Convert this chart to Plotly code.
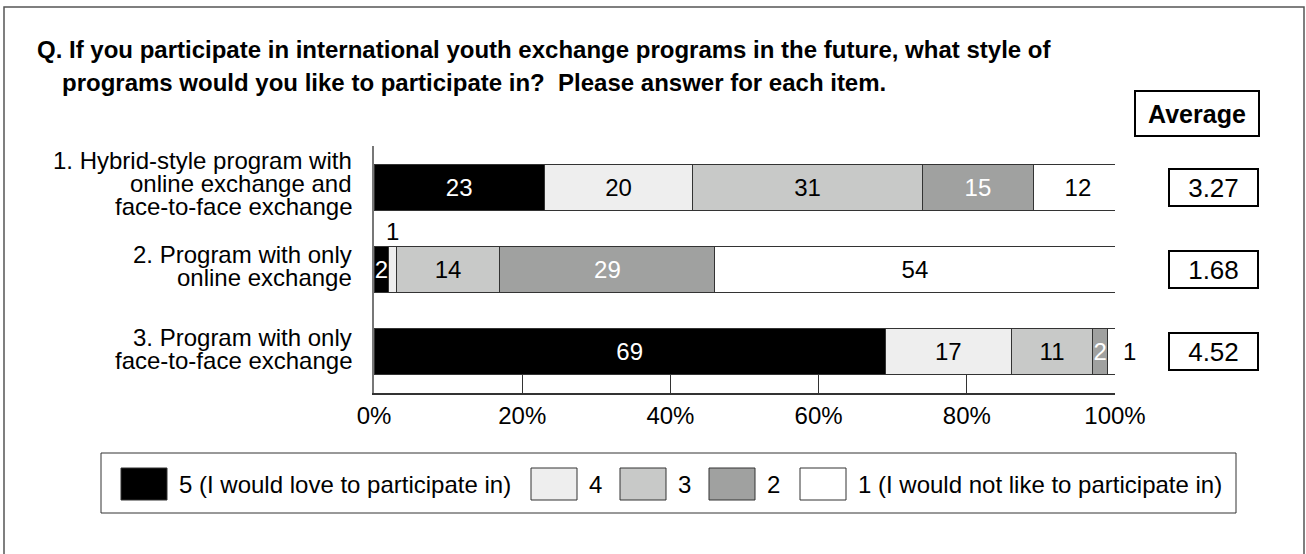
import plotly.graph_objects as go

# ---- data -------------------------------------------------------------
categories = [
    "1. Hybrid-style program with<br>online exchange and<br>face-to-face exchange",
    "2. Program with only<br>online exchange",
    "3. Program with only<br>face-to-face exchange",
]
levels = [
    "5 (I would love to participate in)",
    "4",
    "3",
    "2",
    "1 (I would not like to participate in)",
]
pct_5 = [23, 2, 69]
pct_4 = [20, 1, 17]
pct_3 = [31, 14, 11]
pct_2 = [15, 29, 2]
pct_1 = [12, 54, 1]
averages = [3.27, 1.68, 4.52]
tick_vals = [0, 20, 40, 60, 80, 100]
tick_labels = ["0%", "20%", "40%", "60%", "80%", "100%"]

title_lines = [
    "Q. If you participate in international youth exchange programs in the future, what style of",
    "programs would you like to participate in?\u00a0 Please answer for each item.",
]
average_header = "Average"

# ---- styling ----------------------------------------------------------
FONT = "Liberation Sans, Arial, Helvetica, sans-serif"
fills = ["#000000", "#eeeeee", "#c8c9c8", "#a0a1a0", "#ffffff"]
text_colors = ["#ffffff", "#000000", "#000000", "#ffffff", "#000000"]
EDGE = "#333333"

W, H = 1306, 554
L, R, T, B = 374, 1115, 146, 393   # plot area in pixels


def px(x):
    return (x - L) / (R - L)


def py(y):
    return (B - y) / (B - T)


series = [pct_5, pct_4, pct_3, pct_2, pct_1]

fig = go.Figure()
for name, vals, fill, tcol in zip(levels, series, fills, text_colors):
    fig.add_trace(go.Bar(
        name=name,
        y=categories,
        x=vals,
        orientation="h",
        width=0.56,
        marker=dict(color=fill, line=dict(color=EDGE, width=1)),
        text=[str(v) if v > 1 else "" for v in vals],
        textposition="inside",
        insidetextanchor="middle",
        constraintext="none",
        textangle=0,
        textfont=dict(family=FONT, size=24, color=tcol),
        hoverinfo="skip",
        showlegend=False,
    ))

annotations = []
shapes = []

# labels for 1% segments drawn next to the bar
for ci, cat in enumerate(categories):
    start = 0
    for si, vals in enumerate(series):
        v = vals[ci]
        if v <= 1:
            if si == len(series) - 1:
                annotations.append(dict(
                    x=start + v, y=cat, xref="x", yref="y", text=str(v),
                    xanchor="left", yanchor="middle", xshift=6, showarrow=False,
                    font=dict(family=FONT, size=24, color="#000000")))
            else:
                annotations.append(dict(
                    x=start + v / 2, y=cat, xref="x", yref="y", text=str(v),
                    xanchor="center", yanchor="middle", yshift=38, showarrow=False,
                    font=dict(family=FONT, size=24, color="#000000")))
        start += v

# category labels, one annotation per line for tight leading
PITCH = 23
for cat in categories:
    lines = cat.split("<br>")
    n = len(lines)
    for k, line in enumerate(lines):
        baseline = 5 + (k - (n - 1) / 2) * PITCH
        center = baseline - 8.3
        annotations.append(dict(
            x=px(354), y=cat, xref="paper", yref="y", text=line,
            xanchor="right", yanchor="middle", yshift=-center, showarrow=False,
            font=dict(family=FONT, size=24, color="#000000")))

# average values in boxes
for cat, avg in zip(categories, averages):
    annotations.append(dict(
        x=px(1213.5), y=cat, xref="paper", yref="y", text=f"{avg:.2f}",
        xanchor="center", yanchor="middle", showarrow=False,
        width=85, height=33, borderpad=1, borderwidth=2, bordercolor="#000000",
        font=dict(family=FONT, size=26, color="#000000")))

annotations.append(dict(
    x=px(1197), y=py(113.5), xref="paper", yref="paper", text=average_header,
    xanchor="center", yanchor="middle", showarrow=False,
    width=120, height=41, borderpad=1, borderwidth=2, bordercolor="#000000",
    font=dict(family=FONT, size=25, color="#000000", weight="bold")))

# question title
annotations.append(dict(
    x=px(35), y=py(49.5), xref="paper", yref="paper", text=title_lines[0],
    xanchor="left", yanchor="middle", showarrow=False,
    font=dict(family=FONT, size=24, color="#000000", weight="bold")))
annotations.append(dict(
    x=px(60), y=py(82), xref="paper", yref="paper", text=title_lines[1],
    xanchor="left", yanchor="middle", showarrow=False,
    font=dict(family=FONT, size=24, color="#000000", weight="bold")))

# outer frame
shapes.append(dict(type="rect", xref="paper", yref="paper",
                   x0=px(4), x1=px(1304), y0=py(560), y1=py(7),
                   line=dict(color="#555555", width=1.5), fillcolor="rgba(0,0,0,0)"))

# legend box and entries
shapes.append(dict(type="rect", xref="paper", yref="paper",
                   x0=px(101), x1=px(1236), y0=py(513), y1=py(453),
                   line=dict(color=EDGE, width=1), fillcolor="rgba(0,0,0,0)"))
swatch_left = [121, 531, 620, 709, 800]
for name, fill, x0 in zip(levels, fills, swatch_left):
    shapes.append(dict(type="rect", xref="paper", yref="paper",
                       x0=px(x0), x1=px(x0 + 46), y0=py(500), y1=py(468),
                       line=dict(color=EDGE, width=1), fillcolor=fill))
    annotations.append(dict(
        x=px(x0 + 56), y=py(484), xref="paper", yref="paper", text=name,
        xanchor="left", yanchor="middle", showarrow=False,
        font=dict(family=FONT, size=24, color="#000000")))

fig.update_layout(
    width=W, height=H,
    margin=dict(l=L, r=W - R, t=T, b=H - B, pad=0),
    barmode="stack",
    plot_bgcolor="#ffffff", paper_bgcolor="#ffffff",
    font=dict(family=FONT, size=24, color="#000000"),
    annotations=annotations,
    shapes=shapes,
    xaxis=dict(
        range=[0, 100], tickvals=tick_vals, ticktext=tick_labels,
        ticks="inside", ticklen=18, tickwidth=1, tickcolor=EDGE,
        showline=True, linecolor=EDGE, linewidth=1.5,
        showgrid=False, zeroline=False, automargin=False,
        tickfont=dict(family=FONT, size=24, color="#000000"),
    ),
    yaxis=dict(
        type="category", categoryorder="array", categoryarray=categories,
        range=[2.5, -0.5], showticklabels=False, ticks="",
        showline=True, linecolor="#777777", linewidth=1.5,
        showgrid=False, zeroline=False, automargin=False,
    ),
)

fig.write_html("out.html")
